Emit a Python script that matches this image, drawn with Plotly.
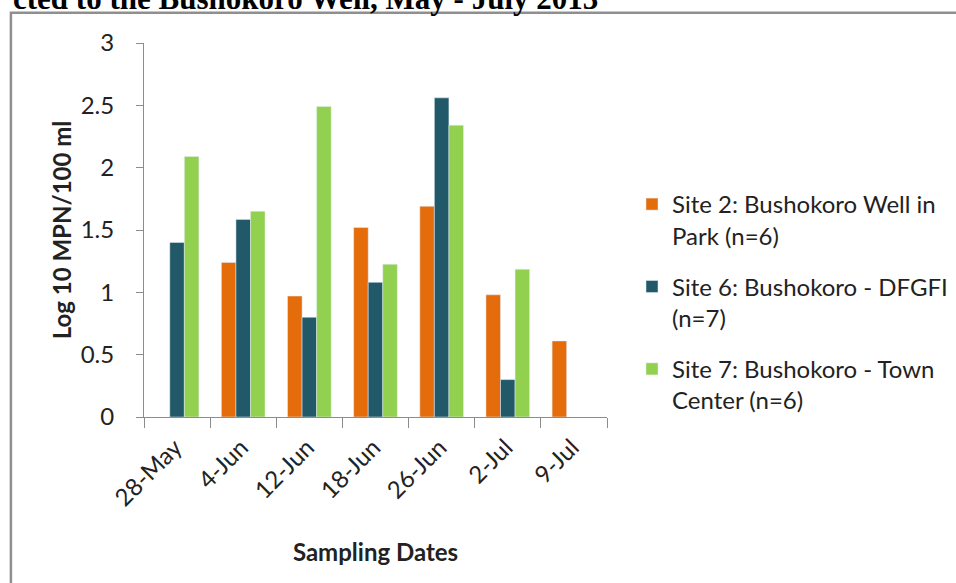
import plotly.graph_objects as go

dates = ["28-May", "4-Jun", "12-Jun", "18-Jun", "26-Jun", "2-Jul", "9-Jul"]
site2 = [None, 1.24, 0.97, 1.52, 1.69, 0.98, 0.61]
site6 = [1.40, 1.585, 0.80, 1.08, 2.56, 0.30, None]
site7 = [2.09, 1.65, 2.49, 1.225, 2.34, 1.185, None]
names = ["Site 2: Bushokoro Well in<br>Park (n=6)",
         "Site 6: Bushokoro - DFGFI<br>(n=7)",
         "Site 7: Bushokoro - Town<br>Center (n=6)"]
colors = ["#E46C0A", "#215968", "#92D050"]

# plot area in pixels
L, R, T, B = 144, 606.7, 42.7, 416.7
W, H = 956, 583
pw, ph = R - L, B - T

def px(x):
    return (x - L) / pw

def py(y):
    return (B - y) / ph

fig = go.Figure()
for i, (vals, nm, c) in enumerate(zip([site2, site6, site7], names, colors)):
    fig.add_trace(go.Bar(x=dates, y=vals, name=nm, marker_color=c,
                         legendgroup=f"g{i}"))

font = "Lato"
axcol = "#8c8c8c"
fig.update_layout(
    width=W, height=H,
    margin=dict(l=L, r=W - R, t=T, b=H - B, pad=0),
    paper_bgcolor="white", plot_bgcolor="white",
    barmode="group", bargap=0.34, bargroupgap=0,
    font=dict(family=font, size=24, color="#222222"),
    showlegend=True,
    legend=dict(xref="container", yref="container",
                x=632 / W, y=1 - 182 / H, xanchor="left", yanchor="top",
                valign="top", tracegroupgap=17,
                font=dict(family=font, size=24, color="#222222")),
    xaxis=dict(showgrid=False, showline=True, linecolor=axcol, linewidth=1,
               ticks="outside", tickson="boundaries", ticklen=10, tickcolor=axcol,
               tickangle=-45, tickfont=dict(size=24), ticklabelstandoff=6,
               ticklabelshift=-2,
               title=dict(text="<b>Sampling Dates</b>", font=dict(size=24), standoff=33)),
    yaxis=dict(range=[0, 3], dtick=0.5, showgrid=False, showline=True, linecolor=axcol,
               linewidth=1, ticks="outside", ticklen=7, tickcolor=axcol,
               tickfont=dict(size=24), ticklabelstandoff=17, zeroline=False,
               title=dict(text="<b>Log 10 MPN/100 ml</b>", font=dict(size=24), standoff=2)),
)

fig.add_annotation(text="<b>cted to the Bushokoro Well, May - July 2013</b>",
                   xref="paper", yref="paper", x=px(600), y=py(18),
                   xanchor="right", yanchor="bottom", showarrow=False,
                   font=dict(family="Liberation Serif", size=31, color="#000000"))

fig.add_shape(type="rect", xref="paper", yref="paper",
              x0=px(11), x1=px(1000), y0=py(12.5), y1=py(700),
              line=dict(color="#8f8f8f", width=2.5), fillcolor="rgba(0,0,0,0)")

fig.write_html("out.html", config={"displayModeBar": False},
               post_script="document.body.style.margin='0';document.body.style.overflow='hidden';")
